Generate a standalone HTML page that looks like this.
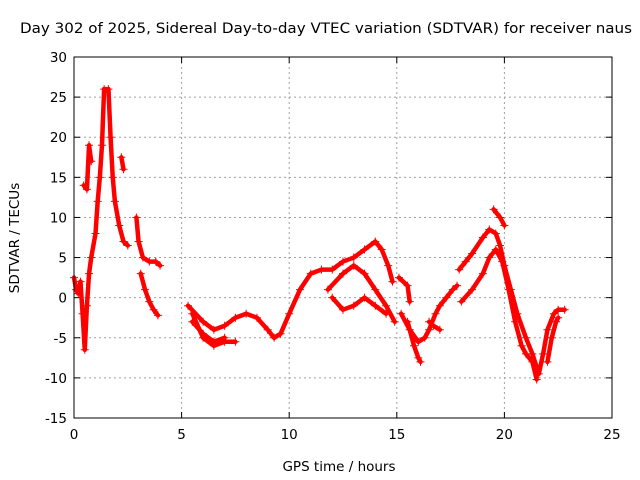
<!DOCTYPE html>
<html><head><meta charset="utf-8"><style>
body{margin:0;background:#fff}
svg{display:block;font-family:"DejaVu Sans","Liberation Sans",sans-serif}
</style></head><body>
<svg id="chart" width="640" height="480" viewBox="0 0 640 480">
<rect width="640" height="480" fill="#fff"/>
<text x="326" y="33" text-anchor="middle" font-size="14" textLength="612" lengthAdjust="spacingAndGlyphs">Day 302 of 2025, Sidereal Day-to-day VTEC variation (SDTVAR) for receiver naus</text>
<text x="339" y="471" text-anchor="middle" font-size="13.5">GPS time / hours</text>
<text transform="translate(19,238) rotate(-90)" text-anchor="middle" font-size="13.5">SDTVAR / TECUs</text>
<g id="grid"></g><g id="ticks"></g><g id="series"></g>
<rect x="74" y="57" width="538" height="361" fill="none" stroke="#000"/>
</svg>
<script>
const xTicks=[0,5,10,15,20,25];
const yTicks=[-15,-10,-5,0,5,10,15,20,25,30];
const trace1x=[0,0.1,0.2,0.3,0.4,0.5,0.6,0.7,0.8,1.0,1.1,1.2,1.3,1.4,1.6,1.7,1.8,1.9,2.1,2.3,2.5];
const trace1y=[2.5,1,0.5,2,-2,-6.5,-1,3,5,8,12,15,19,26,26,20,15,12,9,7,6.5];
const trace2x=[2.9,3.0,3.2,3.5,3.8,4.0];
const trace2y=[10,7,5,4.5,4.5,4];
const trace3x=[3.1,3.3,3.5,3.7,3.9];
const trace3y=[3,1,-0.5,-1.5,-2.2];
const trace4x=[0.45,0.6,0.7,0.8];
const trace4y=[14,13.5,19,17];
const trace5x=[2.2,2.3];
const trace5y=[17.5,16];
const trace6x=[5.3,6,6.5,7,7.5,8,8.5,9,9.3,9.6,10,10.5,11,11.5,12,12.5,13,13.5,14,14.3,14.6,14.8];
const trace6y=[-1,-3,-4,-3.5,-2.5,-2,-2.5,-4,-5,-4.5,-2,1,3,3.5,3.5,4.5,5,6,7,6,4,2];
const trace7x=[5.5,6,6.5,7,7.5];
const trace7y=[-2,-5,-6,-5.5,-5.5];
const trace8x=[5.5,6,6.5,7];
const trace8y=[-3,-4.5,-5.5,-5];
const trace9x=[11.8,12.5,13,13.5,14,14.5,14.9];
const trace9y=[1,3,4,3,1,-1,-3];
const trace10x=[12,12.5,13,13.5,14,14.5];
const trace10y=[0,-1.5,-1,0,-1,-2];
const trace11x=[15.1,15.5,15.6];
const trace11y=[2.5,1.5,-0.5];
const trace12x=[15.2,15.6,16,16.3,16.5,16.8,17,17.3,17.6,17.8];
const trace12y=[-2,-4,-5.5,-5,-4,-2,-1,0,1,1.5];
const trace13x=[15.5,15.8,16,16.1];
const trace13y=[-3,-6,-7.5,-8];
const trace14x=[16.5,16.7,17];
const trace14y=[-3,-3.5,-4];
const trace15x=[17.9,18.2,18.5,19,19.3,19.6,19.8,20,20.3,20.6,21,21.3,21.6,21.8,22,22.3,22.5,22.8];
const trace15y=[3.5,4.5,5.5,7.5,8.5,8,6.5,4,1,-2,-5,-7,-9.5,-7,-4,-2,-1.5,-1.5];
const trace16x=[18,18.5,19,19.3,19.6,19.9,20.2,20.5,20.8,21,21.3,21.5];
const trace16y=[-0.5,1,3,5,6,4.5,1,-3,-6,-7,-8,-10.2];
const trace17x=[19.5,19.8,20];
const trace17y=[11,10,9];
const trace18x=[22,22.2,22.4,22.5];
const trace18y=[-8,-5,-3,-2.5];
const traces=[[trace1x,trace1y],[trace2x,trace2y],[trace3x,trace3y],[trace4x,trace4y],[trace5x,trace5y],[trace6x,trace6y],[trace7x,trace7y],[trace8x,trace8y],[trace9x,trace9y],[trace10x,trace10y],[trace11x,trace11y],[trace12x,trace12y],[trace13x,trace13y],[trace14x,trace14y],[trace15x,trace15y],[trace16x,trace16y],[trace17x,trace17y],[trace18x,trace18y]];
const NS="http://www.w3.org/2000/svg";
const X0=74,X1=612,Y0=418,Y1=57;
function sx(v){return X0+(v-0)/(25-0)*(X1-X0);}
function sy(v){return Y0-(v+15)/(45)*(Y0-Y1);}
function mk(t,a,p){const e=document.createElementNS(NS,t);for(const k in a)e.setAttribute(k,a[k]);p.appendChild(e);return e;}
const grid=document.getElementById('grid'),ticks=document.getElementById('ticks'),ser=document.getElementById('series');
xTicks.forEach(v=>{const x=sx(v);
 if(v>0&&v<25){const g=mk('line',{x1:x,x2:x,y1:Y1,y2:Y0,stroke:'#a0a0a0','stroke-dasharray':'2,3'},grid);
 
 }
 mk('line',{x1:x,x2:x,y1:Y0,y2:Y0-6,stroke:'#000'},ticks);
 mk('line',{x1:x,x2:x,y1:Y1,y2:Y1+6,stroke:'#000'},ticks);
 const t=mk('text',{x:x,y:Y0+21,'text-anchor':'middle','font-size':'13.5'},ticks);t.textContent=v;
 
 
});
yTicks.forEach(v=>{const y=sy(v);
 if(v>-15&&v<30){const g=mk('line',{x1:X0,x2:X1,y1:y,y2:y,stroke:'#a0a0a0','stroke-dasharray':'2,3'},grid);
 
 }
 mk('line',{x1:X0,x2:X0+6,y1:y,y2:y,stroke:'#000'},ticks);
 mk('line',{x1:X1,x2:X1-6,y1:y,y2:y,stroke:'#000'},ticks);
 const t=mk('text',{x:X0-7,y:y+5,'text-anchor':'end','font-size':'13.5'},ticks);t.textContent=v;
 
 
});
traces.forEach(tr=>{
 const xs=tr[0],ys=tr[1];
 const pts=xs.map((x,i)=>sx(x)+','+sy(ys[i])).join(' ');
 const pl=mk('polyline',{points:pts,fill:'none',stroke:'#f00','stroke-width':4.5,'stroke-linejoin':'round','stroke-linecap':'round'},ser);
 
 
 xs.forEach((x,i)=>{const px=sx(x),py=sy(ys[i]);
  const p=mk('path',{d:`M${px-4},${py}H${px+4}M${px},${py-4}V${py+4}`,stroke:'#f00','stroke-width':1},ser);
  
  
 });
});
</script>
</body></html>
